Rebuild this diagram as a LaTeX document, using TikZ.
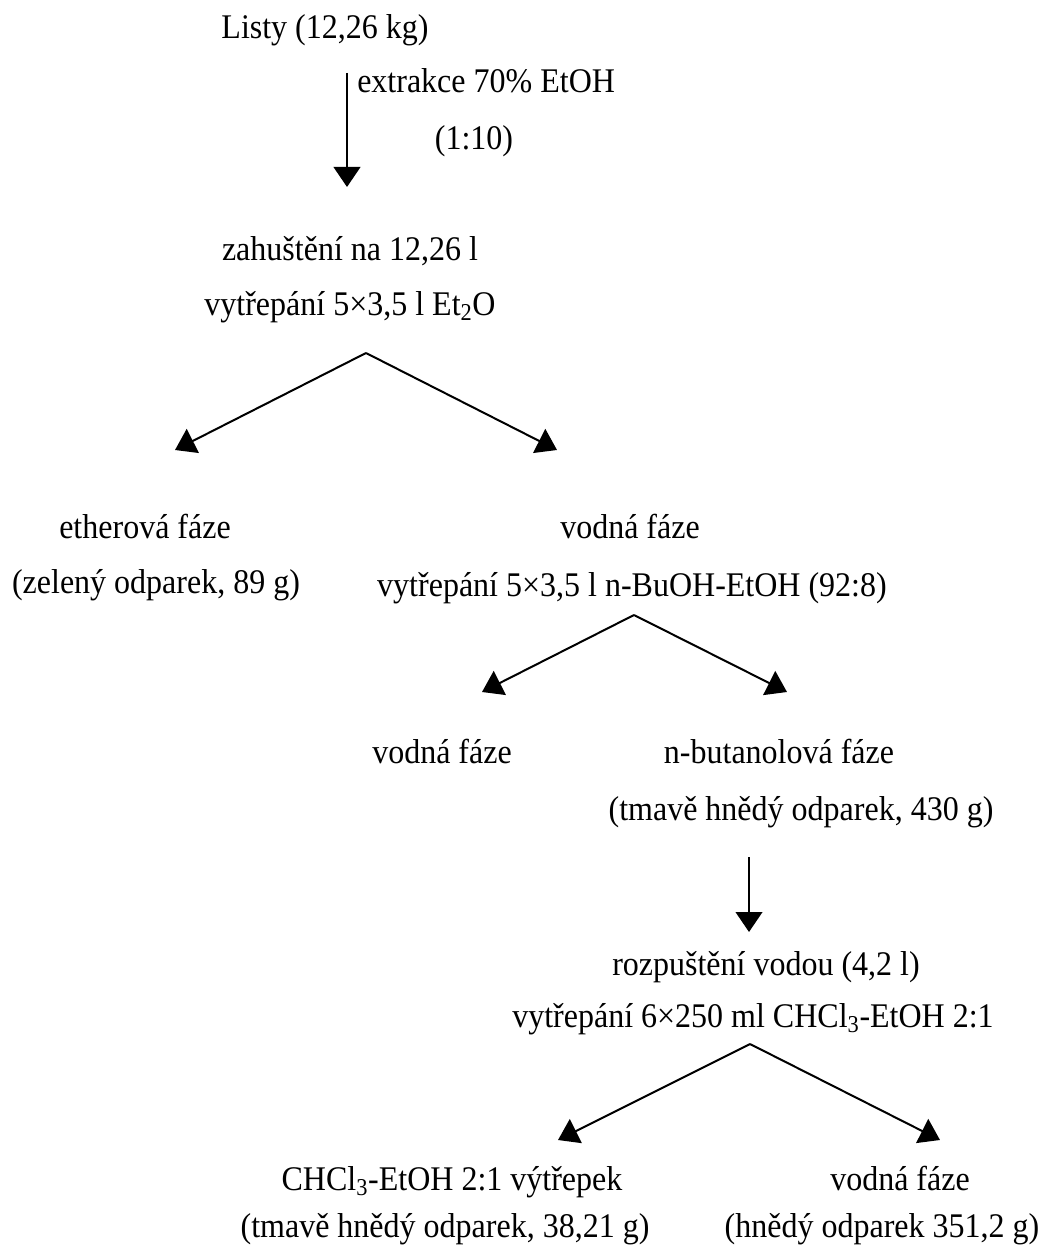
\documentclass[tikz,border=0pt]{standalone}
\usepackage{fontspec}
\usepackage{graphicx}
\setmainfont{Liberation Serif}
\usetikzlibrary{arrows.meta}
\newcommand{\tallt}[1]{\scalebox{1}[1.08]{#1}}
\begin{document}
\begin{tikzpicture}[x=0.75pt,y=-0.75pt,
  txt/.style={anchor=base,inner sep=0pt,font=\fontsize{24}{28}\selectfont},
  arr/.style={line width=1.5pt,-{Triangle[length=15pt,width=20pt]}}]
\useasboundingbox (0,0) rectangle (1042,1252);
% texts
\node[txt] (listy) at (325,39) {\tallt{Listy (12,26 kg)}};
\node[txt,anchor=base west] (extr) at (357,93) {\tallt{extrakce 70\% EtOH}};
\node[txt] (ratio) at (474,150) {\tallt{(1:10)}};
\node[txt] (zah) at (350,260) {\tallt{zahuštění na 12,26 l}};
\node[txt] (vyt1) at (350,315) {\tallt{vytřepání 5×3,5 l Et\textsubscript{2}O}};
\node[txt] (ether) at (145,538) {\tallt{etherová fáze}};
\node[txt] (ether2) at (156,593) {\tallt{(zelený odparek, 89 g)}};
\node[txt] (voda1) at (630,538) {\tallt{vodná fáze}};
\node[txt] (vyt2) at (632,596) {\tallt{vytřepání 5×3,5 l n-BuOH-EtOH (92:8)}};
\node[txt] (voda2) at (442,763) {\tallt{vodná fáze}};
\node[txt] (buoh) at (779,763) {\tallt{n-butanolová fáze}};
\node[txt] (buoh2) at (801,820) {\tallt{(tmavě hnědý odparek, 430 g)}};
\node[txt] (rozp) at (766,975) {\tallt{rozpuštění vodou (4,2 l)}};
\node[txt] (vyt3) at (753,1027) {\tallt{vytřepání 6×250 ml CHCl\textsubscript{3}-EtOH 2:1}};
\node[txt] (chcl) at (452,1190) {\tallt{CHCl\textsubscript{3}-EtOH 2:1 výtřepek}};
\node[txt] (chcl2) at (445,1237) {\tallt{(tmavě hnědý odparek, 38,21 g)}};
\node[txt] (voda3) at (900,1190) {\tallt{vodná fáze}};
\node[txt] (voda3b) at (882,1237) {\tallt{(hnědý odparek 351,2 g)}};
% connector points
\coordinate (a1s) at (347,73);
\coordinate (a1e) at (347,187);
\coordinate (s1) at (366,353);
\coordinate (s1l) at (175,450);
\coordinate (s1r) at (557,450);
\coordinate (s2) at (634,615);
\coordinate (s2l) at (482,692);
\coordinate (s2r) at (787,692);
\coordinate (a2s) at (749,857);
\coordinate (a2e) at (749,932);
\coordinate (s3) at (750,1044);
\coordinate (s3l) at (558,1140);
\coordinate (s3r) at (940,1140);
% connectors
\draw[arr] (a1s) -- (a1e);
\draw[arr] (s1) -- (s1l);
\draw[arr] (s1) -- (s1r);
\draw[arr] (s2) -- (s2l);
\draw[arr] (s2) -- (s2r);
\draw[arr] (a2s) -- (a2e);
\draw[arr] (s3) -- (s3l);
\draw[arr] (s3) -- (s3r);
\end{tikzpicture}
\end{document}
